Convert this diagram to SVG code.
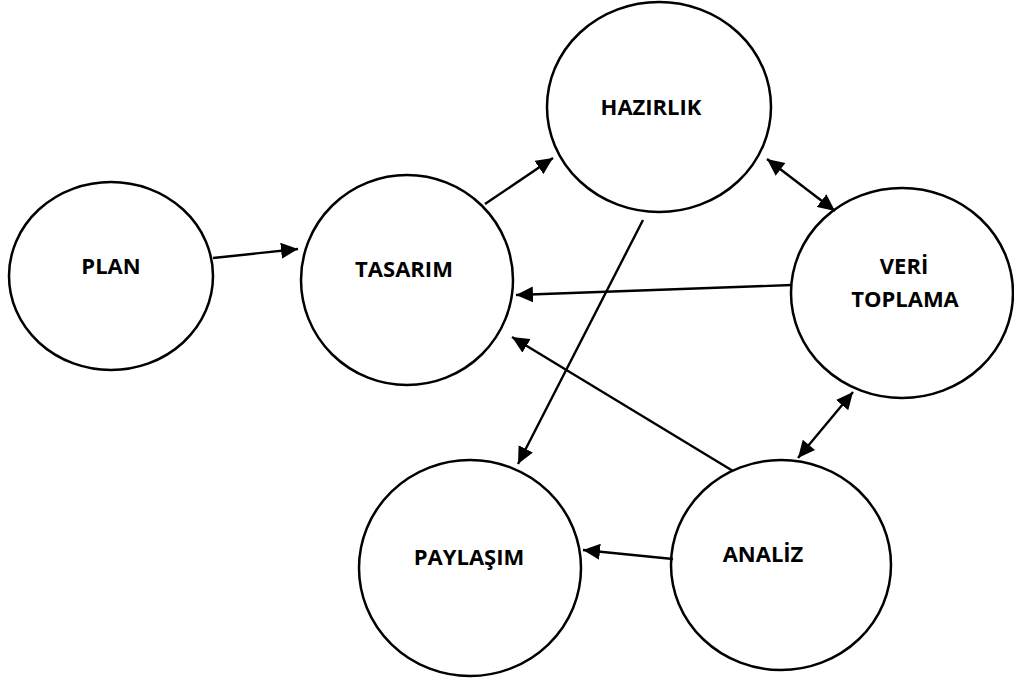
<svg xmlns="http://www.w3.org/2000/svg" width="1014" height="681" viewBox="0 0 1014 681">
  <style>
    .node { fill: #ffffff; stroke: #000000; stroke-width: 2.5; }
    .label { font-family: "Open Sans", "Liberation Sans", Arial, sans-serif; font-weight: 700; font-size: 22px; fill: #000000; text-anchor: middle; }
    .edge { stroke: #000000; stroke-width: 2.4; fill: none; }
    .one { marker-end: url(#head); }
    .two { marker-start: url(#tail); marker-end: url(#head); }
  </style>
  <defs>
    <marker id="head" markerUnits="userSpaceOnUse" markerWidth="18" markerHeight="16" refX="17" refY="8" orient="auto">
      <path d="M0,0 L17,8 L0,16 Z" fill="#000000"/>
    </marker>
    <marker id="tail" markerUnits="userSpaceOnUse" markerWidth="18" markerHeight="16" refX="0" refY="8" orient="auto">
      <path d="M17,0 L0,8 L17,16 Z" fill="#000000"/>
    </marker>
  </defs>
  <rect width="1014" height="681" fill="#ffffff"/>

  <g id="plan">
    <ellipse class="node" cx="111" cy="276" rx="102" ry="94"/>
    <text class="label" x="111" y="274">PLAN</text>
  </g>
  <g id="tasarim">
    <ellipse class="node" cx="407" cy="280" rx="106" ry="105"/>
    <text class="label" x="404" y="277">TASARIM</text>
  </g>
  <g id="hazirlik">
    <ellipse class="node" cx="659" cy="107" rx="112" ry="105"/>
    <text class="label" x="651" y="115">HAZIRLIK</text>
  </g>
  <g id="veri-toplama">
    <ellipse class="node" cx="902" cy="293" rx="111" ry="105"/>
    <text class="label" x="904" y="274">VERİ</text>
    <text class="label" x="905" y="307">TOPLAMA</text>
  </g>
  <g id="paylasim">
    <ellipse class="node" cx="470" cy="568" rx="111" ry="108"/>
    <text class="label" x="469" y="565">PAYLAŞIM</text>
  </g>
  <g id="analiz">
    <ellipse class="node" cx="781" cy="565" rx="110" ry="105"/>
    <text class="label" x="763" y="562">ANALİZ</text>
  </g>

  <g id="connectors">
    <line class="edge one" x1="213" y1="258" x2="298" y2="249"/>
    <line class="edge one" x1="485" y1="204" x2="553" y2="158"/>
    <line class="edge one" x1="643" y1="220" x2="518" y2="464"/>
    <line class="edge two" x1="767" y1="159" x2="835" y2="211"/>
    <line class="edge one" x1="792" y1="285" x2="516" y2="295"/>
    <line class="edge one" x1="733" y1="471" x2="512" y2="337"/>
    <line class="edge two" x1="798" y1="458" x2="853" y2="392"/>
    <line class="edge one" x1="673" y1="559" x2="583" y2="550"/>
  </g>
</svg>
